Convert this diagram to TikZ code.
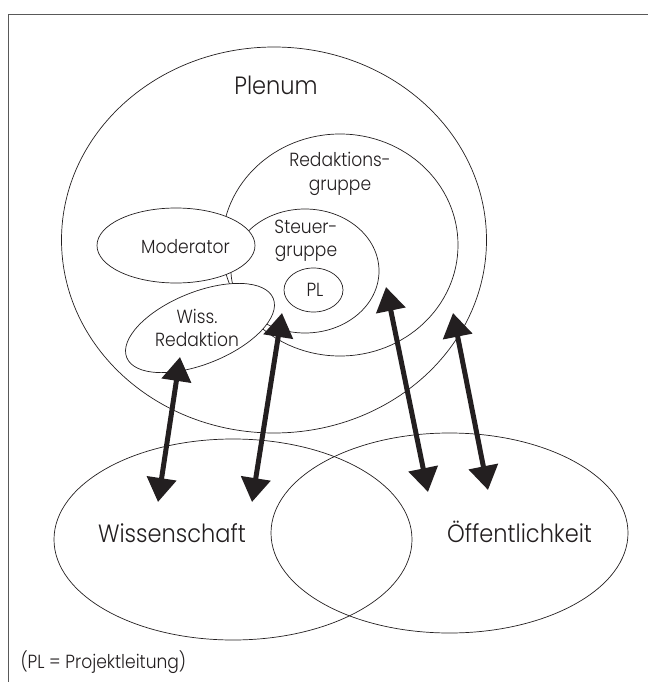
\documentclass[tikz,border=0pt]{standalone}
\usepackage{fontspec}
\setmainfont{Poppins}[UprightFont={* Light},FakeStretch=0.9]
\usetikzlibrary{shapes.geometric}
\usetikzlibrary{arrows.meta}
\definecolor{ink}{RGB}{35,31,32}

\begin{document}
\begin{tikzpicture}[x=1pt,y=-1pt,
    ring/.style={ellipse,draw=ink,line width=0.7pt,inner sep=0pt,outer sep=0pt},
    big/.style={text=ink,font=\fontsize{25}{29}\selectfont},
    small/.style={text=ink,align=center,font=\fontsize{19}{23.5}\selectfont},
    link/.style={{Triangle[length=24pt,width=29pt]}-{Triangle[length=24pt,width=29pt]},ink,line width=5pt}]
    \useasboundingbox (0,0) rectangle (648,682);
    \draw[gray!70!black,line width=1pt] (8,682)--(8,15)--(648,15);
    % the groups
    \node[ring,minimum width=425,minimum height=386] (plenum) at (274,240) {};
    \node[ring,minimum width=236,minimum height=222] (redgr) at (340,245) {};
    \node[ring,minimum width=148,minimum height=124] (steuer) at (305,271) {};
    \node[ring,minimum width=59,minimum height=44] (pl) at (313.5,290) {};
    \node[ring,fill=white,minimum width=158,minimum height=75] (moder) at (176,245.5) {};
    \node[ring,fill=white,minimum width=158,minimum height=72,rotate=22] (wissred) at (200,328) {};
    \node[ring,minimum width=358,minimum height=201] (wiss) at (233,539.5) {};
    \node[ring,minimum width=357,minimum height=200] (oeff) at (449.5,533) {};
    % labels
    \node[big] (lplenum) at (276,85) {Plenum};
    \node[small] (lredgr) at (340,174) {Redaktions-\\gruppe};
    \node[small] (lsteuer) at (306,241) {Steuer-\\gruppe};
    \node[small] (lpl) at (315,290) {PL};
    \node[small] (lmoder) at (185.5,247) {Moderator};
    \node[small] (lwissred) at (197,328) {Wiss.\\Redaktion};
    \node[big] (lwiss) at (172,533) {Wissenschaft};
    \node[big] (loeff) at (519.5,532) {Öffentlichkeit};
    \node[small,anchor=west] (legend) at (17,662) {(PL = Projektleitung)};
    % arrow ends
    \coordinate (a1) at (180,357);
    \coordinate (b1) at (158,502);
    \coordinate (a2) at (282,313);
    \coordinate (b2) at (252,502);
    \coordinate (a3) at (386,287);
    \coordinate (b3) at (428,492);
    \coordinate (a4) at (453,313);
    \coordinate (b4) at (488,490);
    \foreach \i in {1,...,4}
        \draw[link] (a\i)--(b\i);
\end{tikzpicture}
\end{document}
